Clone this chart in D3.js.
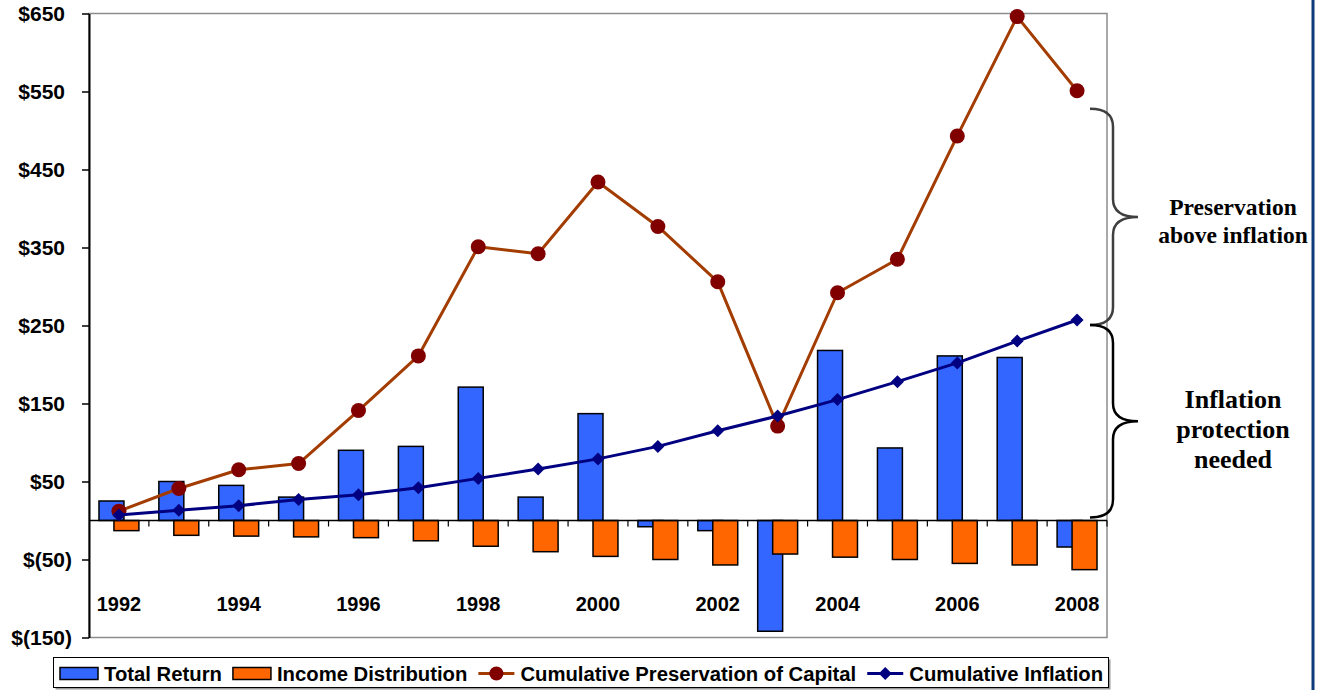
<!DOCTYPE html>
<html>
<head>
<meta charset="utf-8">
<script src="https://cdn.jsdelivr.net/npm/d3@7"></script>
<style>
  html, body { margin: 0; padding: 0; background: #fff; }
  svg { display: block; }
</style>
</head>
<body>
<svg id="chart" width="1329" height="690"></svg>
<script>
// ---- data ----
const years = [1992, 1993, 1994, 1995, 1996, 1997, 1998, 1999, 2000,
               2001, 2002, 2003, 2004, 2005, 2006, 2007, 2008];
const totalReturn      = [25, 50, 45, 30, 90, 95, 171, 30, 137, -8, -13, -142, 218, 93, 211, 209, -34];
const incomeDist       = [-13, -19, -20, -21, -22, -26, -33, -40, -46, -50, -57, -43, -47, -50, -55, -57, -63];
const cumPreservation  = [12, 41, 65, 73, 141, 211, 351, 342, 434, 377, 306, 121, 292, 335, 493, 646, 551];
const cumInflation     = [7, 13, 19, 27, 33, 42, 54, 66, 79, 95, 115, 134, 155, 178, 202, 230, 257];
const yTicks           = [650, 550, 450, 350, 250, 150, 50, -50, -150];
const yearLabels       = [1992, 1994, 1996, 1998, 2000, 2002, 2004, 2006, 2008];
const seriesNames      = ["Total Return", "Income Distribution",
                          "Cumulative Preservation of Capital", "Cumulative Inflation"];
const upperNote        = ["Preservation", "above inflation"];
const lowerNote        = ["Inflation", "protection", "needed"];

// ---- styles ----
const C = {
  blueBar: "#3366ff",
  orangeBar: "#ff6600",
  presLine: "#a33c00",
  presDot: "#800000",
  inflLine: "#000080",
  frame: "#8c8c8c",
  rule: "#0d3a78"
};
const sansBold = "'Liberation Sans', Arial, sans-serif";
const serifBold = "'Liberation Serif', 'Times New Roman', serif";

const svg = d3.select("#chart");
const plot = { left: 89, right: 1107, top: 13.5, bottom: 637.5 };

const x = d3.scaleBand().domain(years).range([plot.left, plot.right]).padding(0);
const y = d3.scaleLinear().domain([-150, 650]).range([plot.bottom, plot.top]);
const bw = x.bandwidth();
const cx = yr => x(yr) + bw / 2;

// plot frame
svg.append("rect")
  .attr("x", plot.left).attr("y", plot.top)
  .attr("width", plot.right - plot.left).attr("height", plot.bottom - plot.top)
  .attr("fill", "none").attr("stroke", C.frame).attr("stroke-width", 1.5);

// ---- bars ----
const barW = bw * 25 / 60;
const barG = svg.append("g");
function bars(values, offset, color) {
  barG.selectAll(null)
    .data(values.map((v, i) => ({ yr: years[i], v })))
    .join("rect")
    .attr("x", d => x(d.yr) + offset)
    .attr("y", d => Math.min(y(d.v), y(0)))
    .attr("width", barW)
    .attr("height", d => Math.abs(y(d.v) - y(0)))
    .attr("fill", color)
    .attr("stroke", "#000")
    .attr("stroke-width", 1.5);
}
bars(totalReturn, bw * 10 / 60, C.blueBar);
bars(incomeDist, bw * 25 / 60, C.orangeBar);

// ---- y axis ----
const fmt = v => v < 0 ? `$(${Math.abs(v)})` : `$${v}`;
const yAxis = svg.append("g")
  .attr("transform", `translate(${plot.left},0)`)
  .call(d3.axisLeft(y).tickValues(yTicks).tickFormat(fmt).tickSize(7).tickPadding(10).tickSizeOuter(0));
yAxis.select(".domain").attr("stroke", "#000").attr("stroke-width", 2);
yAxis.selectAll(".tick line").attr("stroke", "#000").attr("stroke-width", 1.5);
yAxis.selectAll(".tick text")
  .attr("fill", "#000")
  .style("font-family", sansBold).style("font-weight", "bold").style("font-size", "21px")
  .attr("dy", "0.34em")
  .attr("dx", d => d >= 0 ? "-0.333em" : null);

// ---- x axis (zero line) ----
const x0 = y(0);
svg.append("line")
  .attr("x1", plot.left).attr("x2", plot.right)
  .attr("y1", x0).attr("y2", x0)
  .attr("stroke", "#000").attr("stroke-width", 1.5);
svg.append("g").selectAll("line")
  .data(years)
  .join("line")
  .attr("x1", d => x(d) + bw).attr("x2", d => x(d) + bw)
  .attr("y1", x0).attr("y2", x0 + 6)
  .attr("stroke", "#000").attr("stroke-width", 1.2);
svg.append("g").selectAll("text")
  .data(yearLabels)
  .join("text")
  .attr("x", d => cx(d))
  .attr("y", 611)
  .attr("text-anchor", "middle")
  .style("font-family", sansBold).style("font-weight", "bold").style("font-size", "20px")
  .text(d => d);

// ---- lines ----
const diamond = "M0,-6.5L6.5,0L0,6.5L-6.5,0Z";
function lineSeries(values, stroke, markerFn) {
  const pts = values.map((v, i) => [cx(years[i]), y(v)]);
  svg.append("path")
    .attr("d", d3.line()(pts))
    .attr("fill", "none").attr("stroke", stroke).attr("stroke-width", 3)
    .attr("stroke-linejoin", "round");
  const g = svg.append("g");
  pts.forEach(p => markerFn(g, p[0], p[1]));
}
lineSeries(cumPreservation, C.presLine, (g, px, py) =>
  g.append("circle").attr("cx", px).attr("cy", py).attr("r", 7.5).attr("fill", C.presDot));
lineSeries(cumInflation, C.inflLine, (g, px, py) =>
  g.append("path").attr("d", diamond).attr("transform", `translate(${px},${py})`).attr("fill", C.inflLine));

// ---- braces and notes ----
function brace(xa, xv, xt, y0, y1, color) {
  const ym = (y0 + y1) / 2, r = 18;
  const p = `M${xa},${y0} Q${xv},${y0} ${xv},${y0 + r} L${xv},${ym - r} ` +
            `Q${xv},${ym} ${xt},${ym} Q${xv},${ym} ${xv},${ym + r} ` +
            `L${xv},${y1 - r} Q${xv},${y1} ${xa},${y1}`;
  svg.append("path").attr("d", p).attr("fill", "none")
    .attr("stroke", color).attr("stroke-width", 2.5);
  return ym;
}
const lastI = years.length - 1;
const yTop = y(cumPreservation[lastI]) + 18;
const yMid = y(cumInflation[lastI]) + 5;
const yBot = y(0) - 3;
const m1 = brace(1090, 1113, 1138, yTop, yMid, "#3f3f3f");
const m2 = brace(1090, 1113, 1138, yMid, yBot, "#000");

function note(lines, cy, size, gap) {
  const t = svg.append("text")
    .attr("text-anchor", "middle")
    .style("font-family", serifBold).style("font-weight", "bold").style("font-size", size + "px");
  const start = cy - (lines.length - 1) * gap / 2 + size * 0.33;
  lines.forEach((s, i) => t.append("tspan").attr("x", 1233).attr("y", start + i * gap).text(s));
}
note(upperNote, m1 + 4, 23.5, 28);
note(lowerNote, m2 + 8, 26, 30);

// right-hand rule
svg.append("line")
  .attr("x1", 1313).attr("x2", 1313).attr("y1", 0).attr("y2", 690)
  .attr("stroke", C.rule).attr("stroke-width", 3);

// ---- legend ----
const lg = svg.append("g");
lg.append("rect").attr("x", 55.5).attr("y", 659.5).attr("width", 1055).attr("height", 30)
  .attr("fill", "#9a9a9a");
lg.append("rect").attr("x", 53.5).attr("y", 657.5).attr("width", 1055).attr("height", 30)
  .attr("fill", "#fff").attr("stroke", "#000").attr("stroke-width", 1);

const legendItems = [
  { name: seriesNames[0], kind: "bar", color: C.blueBar },
  { name: seriesNames[1], kind: "bar", color: C.orangeBar },
  { name: seriesNames[2], kind: "circle", color: C.presLine, mark: C.presDot },
  { name: seriesNames[3], kind: "diamond", color: C.inflLine, mark: C.inflLine }
];
let lx = 60;
const ly = 673.5;
legendItems.forEach(it => {
  if (it.kind === "bar") {
    lg.append("rect").attr("x", lx).attr("y", ly - 6).attr("width", 38).attr("height", 12)
      .attr("fill", it.color).attr("stroke", "#000").attr("stroke-width", 1.5);
  } else {
    lg.append("line").attr("x1", lx).attr("x2", lx + 36).attr("y1", ly).attr("y2", ly)
      .attr("stroke", it.color).attr("stroke-width", 3);
    if (it.kind === "circle")
      lg.append("circle").attr("cx", lx + 18).attr("cy", ly).attr("r", 7).attr("fill", it.mark);
    else
      lg.append("path").attr("d", diamond).attr("transform", `translate(${lx + 18},${ly})`).attr("fill", it.mark);
  }
  const tx = lx + (it.kind === "bar" ? 44 : 42);
  const t = lg.append("text").attr("x", tx).attr("y", 680.5)
    .style("font-family", sansBold).style("font-weight", "bold").style("font-size", "20.3px")
    .text(it.name);
  lx = tx + t.node().getComputedTextLength() + 11;
});
</script>
</body>
</html>
